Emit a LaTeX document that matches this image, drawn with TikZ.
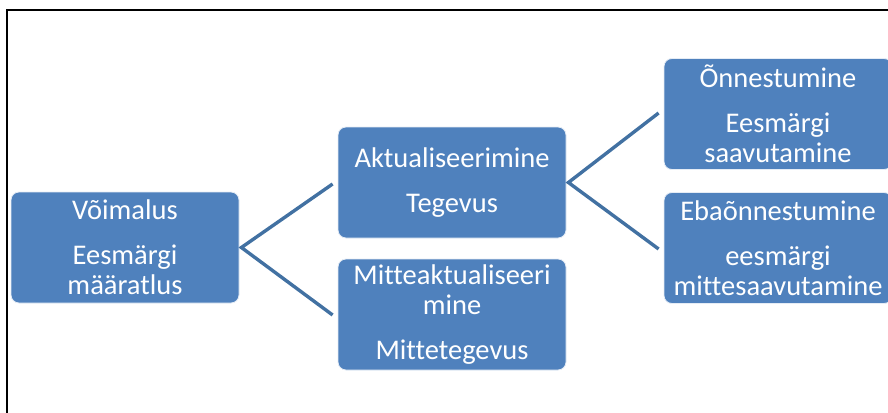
\documentclass[tikz,border=0pt]{standalone}
\usepackage{fontspec}
\setmainfont[Ligatures=NoCommon]{Carlito}
\definecolor{boxblue}{RGB}{79,129,189}
\definecolor{lineblue}{RGB}{66,113,162}
\begin{document}
\begin{tikzpicture}[x=1pt,y=-1pt,
  box/.style={fill=boxblue, draw=white!85!boxblue, line width=0.8pt, rounded corners=8pt,
    minimum width=228pt, minimum height=111pt, text width=226pt, inner sep=0pt,
    align=center, text=white, font=\fontsize{28.5}{30}\selectfont},
  conn/.style={draw=lineblue, line width=3.4pt}]
\clip (0,0) rectangle (888,412);
\draw[line width=2.5pt, black] (7,420) -- (7,10) -- (900,10);
\node[box] (voim) at (125,247.5) {Võimalus\\[15pt]Eesmärgi\\määratlus};
\node[box] (akt) at (452,182.5) {Aktualiseerimine\\[15pt]Tegevus};
\node[box] (mitte) at (452,314.5) {Mitteaktualiseeri\\mine\\[15pt]Mittetegevus};
\node[box] (onn) at (778,114) {Õnnestumine\\[15pt]Eesmärgi\\saavutamine};
\node[box] (eba) at (778,248) {Ebaõnnestumine\\[15pt]eesmärgi\\mittesaavutamine};
\coordinate (v1) at ([xshift=2pt]voim.east);
\coordinate (a1) at ([xshift=-5pt,yshift=-1.5pt]akt.west);
\coordinate (m1) at ([xshift=-5pt,yshift=-0.5pt]mitte.west);
\draw[conn] (a1) -- (v1) -- (m1);
\coordinate (a2) at ([xshift=2pt]akt.east);
\coordinate (o1) at ([xshift=-5pt,yshift=1pt]onn.west);
\coordinate (e1) at ([xshift=-5pt,yshift=-1pt]eba.west);
\draw[conn] (o1) -- (a2) -- (e1);
\end{tikzpicture}
\end{document}
